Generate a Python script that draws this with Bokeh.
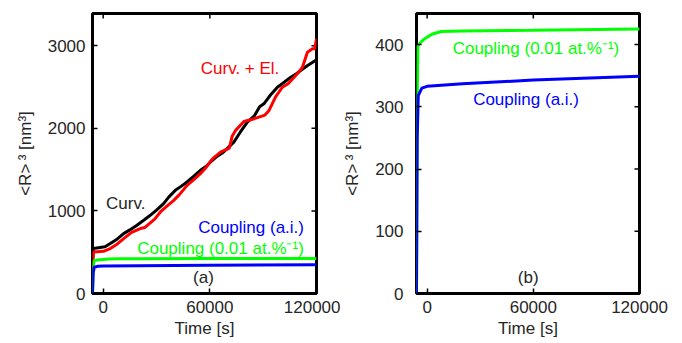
import math
from bokeh.plotting import figure
from bokeh.layouts import row
from bokeh.models import FixedTicker, Label, Range1d, BasicTickFormatter
from bokeh.embed import file_html
from bokeh.resources import INLINE

# ---------------- data ----------------
t_curv = [-6000, -5500, 1000, 4000, 8000, 11500, 15000, 19000, 23000, 26500, 30000,
          34000, 37000, 40600, 44000, 47200, 51000, 54700, 58000, 61300, 64000,
          67000, 70000, 73500, 77000, 81100, 85000, 88000, 90400, 94000, 98000,
          102000, 105500, 108000, 111100, 115000, 120000]
curv = [350, 545, 565, 605, 660, 725, 770, 826, 890, 947, 1010,
        1088, 1170, 1249, 1300, 1350, 1420, 1491, 1540, 1610, 1660,
        1700, 1760, 1833, 1950, 2075, 2150, 2260, 2297, 2400, 2498,
        2560, 2619, 2650, 2700, 2760, 2830]

t_curv_el = [-6000, -5500, 200, 4000, 8000, 11500, 16000, 20900, 23500, 26000, 29000,
             32200, 36000, 39700, 43000, 47200, 51000, 54700, 58000, 60400, 62000,
             66000, 71000, 72500, 74500, 79200, 84000, 87600, 91000, 93300, 97000,
             100800, 104000, 107400, 110000, 112100, 114900, 117700, 119000, 120000]
curv_el = [300, 503, 511, 544, 600, 665, 740, 786, 800, 846, 900,
           987, 1060, 1128, 1200, 1309, 1380, 1451, 1530, 1600, 1640,
           1712, 1760, 1900, 1975, 2083, 2110, 2136, 2160, 2216, 2380,
           2498, 2540, 2619, 2680, 2740, 2921, 2962, 2962, 3083]

t_coup_ai = [-6000, -5600, -5000, -3000, 0, 20000, 60000, 120000]
coup_ai = [0, 250, 318, 330, 333, 337, 343, 349]

t_coup_01 = [-6000, -5700, -5200, -3500, -2000, 0, 3000, 8000, 20000, 60000, 120000]
coup_01 = [0, 300, 398, 404, 408, 412, 417, 421, 422, 423, 425]

x_ticks = [0, 60000, 120000]
y_ticks_a = [0, 1000, 2000, 3000]
y_ticks_b = [0, 100, 200, 300, 400]

X_MIN, X_MAX = -6000, 120000
FONT = "Liberation Sans"
BLACK, RED, BLUE, GREEN = "#000000", "#ff0000", "#0000ff", "#00ff00"
TXT = "#262626"


def style_axis(ax, ticks, standoff):
    ax.ticker = FixedTicker(ticks=ticks)
    ax.formatter = BasicTickFormatter(use_scientific=False)
    ax.axis_line_color = None
    ax.major_tick_in = 5
    ax.major_tick_out = 0
    ax.major_tick_line_width = 1.5
    ax.major_tick_line_color = "black"
    ax.minor_tick_line_color = None
    ax.major_label_text_font = FONT
    ax.major_label_text_font_size = "17px"
    ax.major_label_text_color = TXT
    ax.major_label_standoff = standoff
    ax.axis_label_text_font = FONT
    ax.axis_label_text_font_size = "17px"
    ax.axis_label_text_font_style = "normal"
    ax.axis_label_text_color = TXT


def make_fig(ymax, yticks, left_border, right_border, frame_w, ystandoff):
    p = figure(frame_width=frame_w, frame_height=280,
               min_border_left=left_border, min_border_right=right_border,
               min_border_top=13, min_border_bottom=50,
               x_range=Range1d(X_MIN, X_MAX), y_range=Range1d(0, ymax),
               output_backend="svg", toolbar_location=None)
    p.grid.visible = False
    p.outline_line_color = "black"
    p.outline_line_width = 3
    p.background_fill_color = "white"
    p.border_fill_color = "white"
    style_axis(p.xaxis[0], x_ticks, 7)
    style_axis(p.yaxis[0], yticks, ystandoff)
    p.xaxis[0].axis_label = "Time [s]"
    p.xaxis[0].axis_label_standoff = 3
    p.yaxis[0].axis_label = "<R>\u2009³ [nm³]"
    p.yaxis[0].axis_label_standoff = 10
    # mirrored inward ticks on top and right edges
    p.scatter(x_ticks, [ymax] * len(x_ticks), marker="dash", angle=math.pi / 2,
              size=10, line_color="black", line_width=1.5)
    p.scatter([X_MAX] * len(yticks), yticks, marker="dash",
              size=10, line_color="black", line_width=1.5)
    return p


def add_text(p, x, y, text, color, size="17px"):
    p.add_layout(Label(x=x, y=y, text=text, text_align="center",
                       text_baseline="middle", text_font=FONT,
                       text_font_size=size, text_color=color))


# ---------------- panel (a) ----------------
p1 = make_fig(3390, y_ticks_a, 92, 24, 224, 7)
p1.line(t_curv, curv, line_color=BLACK, line_width=3)
p1.line(t_curv_el, curv_el, line_color=RED, line_width=3)
p1.line(t_coup_01, coup_01, line_color=GREEN, line_width=3)
p1.line(t_coup_ai, coup_ai, line_color=BLUE, line_width=3)
add_text(p1, 77000, 2724, "Curv. + El.", RED)
add_text(p1, 12700, 1092, "Curv.", TXT)
add_text(p1, 83200, 802, "Coupling (a.i.)", BLUE)
add_text(p1, 66000, 548, "Coupling (0.01 at.%\u207b\u00b9)", GREEN)
add_text(p1, 56400, 197, "(a)", TXT)

# ---------------- panel (b) ----------------
p2 = make_fig(450, y_ticks_b, 75, 44, 223, 13)
p2.line(t_coup_01, coup_01, line_color=GREEN, line_width=3)
p2.line(t_coup_ai, coup_ai, line_color=BLUE, line_width=3)
add_text(p2, 61500, 394, "Coupling (0.01 at.%\u207b\u00b9)", GREEN)
add_text(p2, 55900, 312, "Coupling (a.i.)", BLUE)
add_text(p2, 57100, 26, "(b)", TXT)

layout = row(p1, p2)
open("out.html", "w").write(file_html(layout, INLINE))
